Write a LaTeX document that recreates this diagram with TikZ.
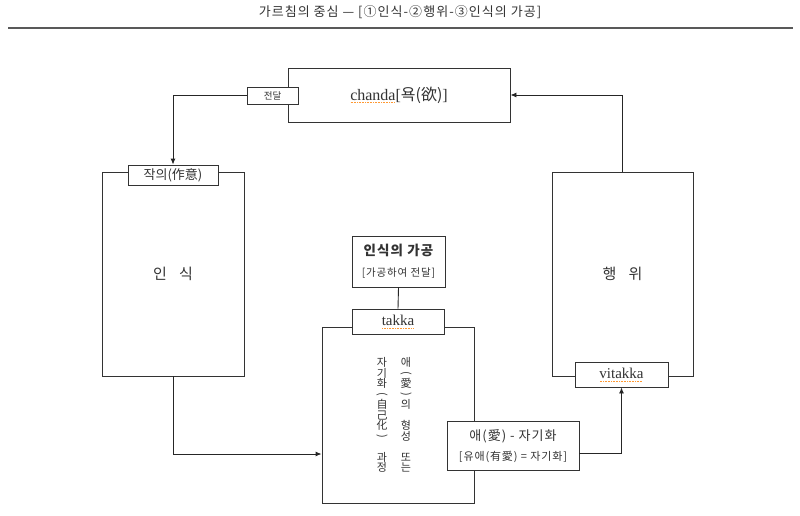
\documentclass[tikz,border=0pt]{standalone}
\usepackage{fontspec}
\setmainfont{Liberation Serif}
\newfontfamily\kr{Noto Sans CJK KR}
\newfontfamily\krw[LetterSpace=8]{Noto Sans CJK KR}
\usetikzlibrary{arrows.meta}
\newcommand\vpar[1]{\rotatebox[origin=c]{-90}{#1}}
\newcommand\tightlines{\setlength{\lineskiplimit}{-20pt}\setlength{\lineskip}{0pt}}
\newlength\sqw
\newcommand\squig[1]{\settowidth\sqw{#1}\rlap{\raisebox{-2.8pt}{\textcolor{orange!80}{\leaders\hbox to 1.6pt{\hss\rule{0.8pt}{0.6pt}\hss}\hskip\sqw}}}#1}
\begin{document}
\begin{tikzpicture}[x=1pt,y=-1pt,
  box/.style={draw=black!80, line width=0.9pt, fill=white, inner sep=0pt},
  conn/.style={draw=black!85, line width=0.9pt},
  arr/.style={conn, -{Latex[length=6pt,width=5pt]}},
  txt/.style={text=black!80, inner sep=0pt},
  vcol/.style={txt, align=center, font=\kr\fontsize{11}{10.5}\selectfont\tightlines}
]
\useasboundingbox (0,0) rectangle (800,516);
\fill[white] (0,0) rectangle (800,516);
% title and rule
\node[txt, font=\krw\fontsize{13}{15}\selectfont] (title) at (400,12) {가르침의 중심 — [①인식-②행위-③인식의 가공]};
\draw[line width=1.3pt, black!65] (8,28) -- (793,28);
% boxes
\node[box, minimum width=222pt, minimum height=54pt] (chanda) at (399,95) {};
\node[txt, font=\fontsize{16}{18}\selectfont] (chandat) at (399,95) {\squig{chanda}[{\kr 욕(欲)}]};
\node[box, minimum width=51pt, minimum height=17pt, font=\kr\fontsize{9.5}{11}\selectfont, text=black!80] (jeondal) at (272.5,95.5) {전달};

\node[box, minimum width=142pt, minimum height=204pt] (insik) at (173,274) {};
\node[txt, font=\kr\fontsize{15}{17}\selectfont] (insikt) at (173,274) {인\hspace{12pt}식};
\node[box, minimum width=90pt, minimum height=20pt, font=\kr\fontsize{13}{15}\selectfont, text=black!80] (jakui) at (173,175) {작의(作意)};

\node[box, minimum width=141pt, minimum height=204pt] (haeng) at (622.5,274) {};
\node[txt, font=\kr\fontsize{15}{17}\selectfont] (haengt) at (622.5,274) {행\hspace{12pt}위};
\node[box, minimum width=93pt, minimum height=25pt, font=\fontsize{15}{17}\selectfont, text=black!80] (vitakka) at (621.5,374.5) {\squig{vitakka}};

\node[box, minimum width=93pt, minimum height=51pt] (gagong) at (398.5,261.5) {};
\node[txt, font=\krw\bfseries\fontsize{13.5}{15}\selectfont] (gagong1) at (398.5,250) {인식의 가공};
\node[txt, font=\krw\fontsize{10.5}{12}\selectfont] (gagong2) at (398.5,273) {[가공하여 전달]};

\node[box, minimum width=152pt, minimum height=176pt] (center) at (398,415) {};
\node[box, minimum width=92pt, minimum height=25pt, font=\fontsize{15}{17}\selectfont, text=black!80] (takka) at (398,321.5) {\squig{takka}};
\node[vcol] (colR) at (406,415) {애\\\vpar{(}\\愛\\\vpar{)}\\의\\~\\형\\성\\~\\또\\는};
\node[vcol] (colL) at (382,415) {자\\기\\화\\\vpar{(}\\自\\己\\化\\\vpar{)}\\~\\과\\정};

\node[box, minimum width=132pt, minimum height=49pt] (ae) at (513,445.5) {};
\node[txt, font=\krw\fontsize{13}{15}\selectfont] (ae1) at (513,436) {애(愛) - 자기화};
\node[txt, font=\krw\fontsize{11}{13}\selectfont] (ae2) at (513,457) {[유애(有愛) = 자기화]};

% connectors
\draw[arr] (jeondal.west) -| (jakui.north);
\draw[arr] (haeng.north) |- (chanda.east);
\draw[arr] (insik.south) |- ([yshift=-39pt]center.west);
\draw[conn] (gagong.south) -- (takka.north);
\draw[arr] ([yshift=-7.5pt]ae.east) -| (vitakka.south);
\end{tikzpicture}
\end{document}
